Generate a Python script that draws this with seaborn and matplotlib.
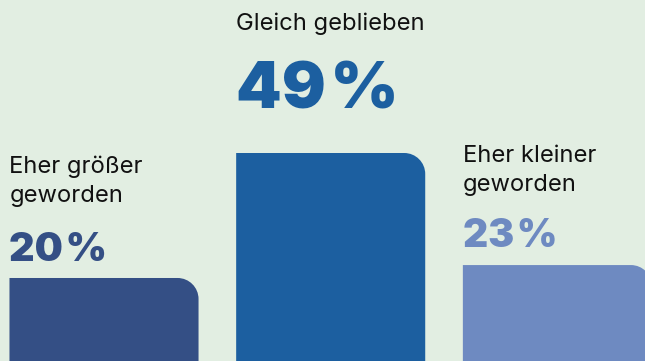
import matplotlib
matplotlib.use("Agg")
import matplotlib.pyplot as plt
import seaborn as sns
import pandas as pd
from matplotlib.path import Path
from matplotlib.patches import PathPatch

# Survey answers and their shares in percent
categories = ["Eher größer\ngeworden", "Gleich geblieben", "Eher kleiner\ngeworden"]
shares = [20, 49, 23]
value_labels = ["20\u200a%", "49\u200a%", "23\u200a%"]
bar_colors = ["#344f85", "#1c5fa0", "#6e8ac1"]

BG = "#e2eee2"
TEXT = "#111111"

sns.set_theme(style="white")
plt.rcParams["font.family"] = ["Inter", "DejaVu Sans"]

W_PX, H_PX = 645, 361
fig = plt.figure(figsize=(W_PX / 100, H_PX / 100), dpi=100, facecolor=BG)
ax = fig.add_axes([0, 0, 1, 1])
ax.set_facecolor(BG)

df = pd.DataFrame({"Kategorie": categories, "Anteil": shares})
BAR_W = 0.834
sns.barplot(data=df, x="Kategorie", y="Anteil", hue="Kategorie",
            palette=bar_colors, width=BAR_W, saturation=1,
            legend=False, ax=ax)

x0, x1 = -0.4588, 2.3865
y0, y1 = 0.74, 84.5
ax.set_xlim(x0, x1)
ax.set_ylim(y0, y1)
ax.axis("off")

px_x = W_PX / (x1 - x0)
px_y = H_PX / (y1 - y0)

# Replace the plain rectangles with bars whose top-right corner is rounded
RADIUS_PX = 21
k = 0.5523
rx, ry = RADIUS_PX / px_x, RADIUS_PX / px_y
for patch in list(ax.patches):
    bx, by = patch.get_x(), patch.get_y()
    bw, bh = patch.get_width(), patch.get_height()
    color = patch.get_facecolor()
    patch.remove()
    top, right = by + bh, bx + bw
    verts = [(bx, by), (bx, top), (right - rx, top),
             (right - rx + k * rx, top), (right, top - ry + k * ry), (right, top - ry),
             (right, by), (bx, by)]
    codes = [Path.MOVETO, Path.LINETO, Path.LINETO,
             Path.CURVE4, Path.CURVE4, Path.CURVE4,
             Path.LINETO, Path.CLOSEPOLY]
    ax.add_patch(PathPatch(Path(verts, codes), facecolor=color,
                           edgecolor="none", clip_on=True))

# Text stacks above each bar (pixel gaps from the bar top)
number_gap = [17, 45, 18]
label_gap = [76, 123, 74]
number_size = [28.5, 47, 28]
LABEL_SIZE = 17.1
LINE_PX = 29

for i, (cat, val, lab, col) in enumerate(zip(categories, shares, value_labels, bar_colors)):
    left = i - BAR_W / 2
    ax.annotate(lab, xy=(left, val), xytext=(0, number_gap[i]),
                textcoords="offset pixels", ha="left", va="baseline",
                fontsize=number_size[i], fontweight="black", color=col,
                annotation_clip=False)
    lines = cat.split("\n")
    for j, line in enumerate(lines):
        off = label_gap[i] + (len(lines) - 1 - j) * LINE_PX
        ax.annotate(line, xy=(left, val), xytext=(0, off),
                    textcoords="offset pixels", ha="left", va="baseline",
                    fontsize=LABEL_SIZE, color=TEXT, annotation_clip=False)

fig.savefig("out.png", dpi=100, facecolor=BG)
